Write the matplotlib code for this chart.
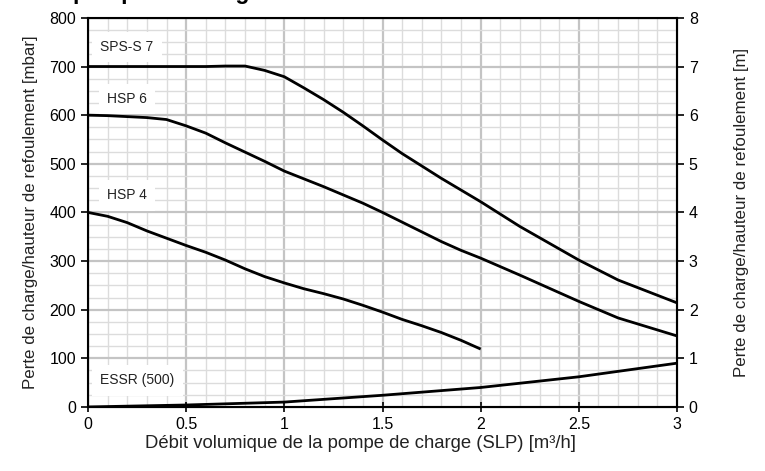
import matplotlib

matplotlib.use("Agg")

import matplotlib.pyplot as plt
from matplotlib.ticker import MultipleLocator

plt.rcParams["font.family"] = ["Liberation Sans", "DejaVu Sans"]

# Courbes (débit en m3/h, perte de charge en mbar)
debit_sps7 = [0, 0.2, 0.4, 0.6, 0.7, 0.8, 0.9, 1.0, 1.1, 1.2, 1.3, 1.4, 1.5, 1.6, 1.8, 2.0, 2.2, 2.5, 2.7, 3.0]
perte_sps7 = [700, 700, 700, 700, 701, 701, 692, 679, 656, 632, 606, 578, 549, 521, 470, 422, 371, 302, 261, 214]

debit_hsp6 = [0, 0.1, 0.2, 0.3, 0.4, 0.5, 0.6, 0.7, 0.8, 0.9, 1.0, 1.1, 1.2, 1.4, 1.5, 1.6, 1.7, 1.8, 1.9, 2.0, 2.2, 2.5, 2.7, 3.0]
perte_hsp6 = [600, 599, 597, 595, 591, 578, 563, 543, 524, 505, 485, 469, 453, 419, 400, 380, 360, 340, 322, 306, 271, 217, 183, 146]

debit_hsp4 = [0, 0.1, 0.2, 0.3, 0.4, 0.5, 0.6, 0.7, 0.8, 0.9, 1.0, 1.1, 1.2, 1.3, 1.4, 1.5, 1.6, 1.7, 1.8, 1.9, 2.0]
perte_hsp4 = [400, 392, 379, 362, 347, 332, 318, 302, 284, 268, 255, 243, 233, 222, 209, 195, 180, 167, 153, 137, 119]

debit_essr = [0, 0.5, 1.0, 1.5, 2.0, 2.5, 3.0]
perte_essr = [0, 4, 10, 24, 40, 62, 90]

courbes = [
    ("SPS-S 7", debit_sps7, perte_sps7, 0.062, 740),
    ("HSP 6", debit_hsp6, perte_hsp6, 0.097, 633),
    ("HSP 4", debit_hsp4, perte_hsp4, 0.097, 435),
    ("ESSR (500)", debit_essr, perte_essr, 0.062, 55),
]

fig = plt.figure(figsize=(7.65, 4.71), dpi=100)
ax = fig.add_axes([0.115, 0.136, 0.77, 0.826])

for nom, x, y, tx, ty in courbes:
    ax.plot(x, y, color="black", linewidth=2, zorder=5,
            solid_joinstyle="round", solid_capstyle="butt")
    ax.text(
        tx, ty, nom,
        fontsize=10,
        va="center",
        ha="left",
        color="#222222",
        zorder=4,
        bbox=dict(facecolor="white", edgecolor="none", boxstyle="square,pad=0.6"),
    )

ax.set_xlim(0, 3)
ax.set_ylim(0, 800)
ax.xaxis.set_major_locator(MultipleLocator(0.5))
ax.xaxis.set_minor_locator(MultipleLocator(0.1))
ax.yaxis.set_major_locator(MultipleLocator(100))
ax.yaxis.set_minor_locator(MultipleLocator(25))
ax.set_xticks([0, 0.5, 1, 1.5, 2, 2.5, 3], ["0", "0.5", "1", "1.5", "2", "2.5", "3"])

ax.grid(which="major", color="#c4c4c4", linewidth=1.6, zorder=0)
ax.grid(which="minor", color="#dcdcdc", linewidth=1.0, zorder=0)
ax.set_axisbelow(True)

ax.tick_params(axis="x", which="major", direction="inout", length=7, width=1.2, labelsize=11.5)
ax.tick_params(axis="y", which="major", direction="out", length=5, width=1.2, labelsize=11.5)
ax.tick_params(which="minor", length=0)

for cote in ["left", "right", "bottom", "top"]:
    ax.spines[cote].set_linewidth(1.5)
    ax.spines[cote].set_color("black")

ax.set_xlabel("Débit volumique de la pompe de charge (SLP) [m³/h]", fontsize=13.3, color="#222222")
ax.xaxis.set_label_coords(0.462, -0.073)
ax.set_ylabel("Perte de charge/hauteur de refoulement [mbar]", fontsize=12.2, labelpad=8,
              color="#222222")

ax2 = ax.twinx()
ax2.set_ylim(0, 8)
ax2.yaxis.set_major_locator(MultipleLocator(1))
ax2.tick_params(axis="y", direction="out", length=5, width=1.2, labelsize=11.5)
ax2.set_ylabel("Perte de charge/hauteur de refoulement [m]", fontsize=12.2, labelpad=26,
               color="#222222")

# titre coupé en haut de l'image, comme sur l'original
fig.text(73 / 765, 1 + 1 / 471, "pompe de charge", fontsize=16.5, fontweight="bold",
         ha="left", va="baseline")

fig.savefig("out.png", dpi=100)
